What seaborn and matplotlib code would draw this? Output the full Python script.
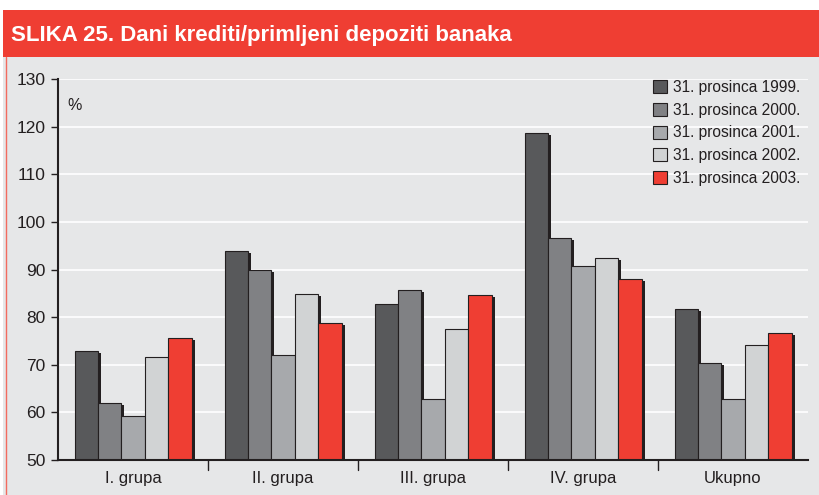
import matplotlib
matplotlib.use("Agg")
import matplotlib.pyplot as plt
import matplotlib.patheffects as pe
from matplotlib.patches import Rectangle, Patch
import seaborn as sns
import pandas as pd

categories = ["I. grupa", "II. grupa", "III. grupa", "IV. grupa", "Ukupno"]
series = ["31. prosinca 1999.", "31. prosinca 2000.", "31. prosinca 2001.",
          "31. prosinca 2002.", "31. prosinca 2003."]
v1999 = [72.8, 93.8, 82.7, 118.7, 81.8]
v2000 = [62.0, 90.0, 85.7, 96.7, 70.3]
v2001 = [59.2, 72.0, 62.8, 90.8, 62.8]
v2002 = [71.6, 84.8, 77.5, 92.5, 74.1]
v2003 = [75.6, 78.8, 84.7, 88.0, 76.6]
yticks = [50, 60, 70, 80, 90, 100, 110, 120, 130]

colors = ["#58595b", "#808184", "#a7a9ac", "#d1d3d4", "#ef3e33"]
bg = "#e6e7e8"
red = "#ef3e33"

rows = []
for s, vals in zip(series, [v1999, v2000, v2001, v2002, v2003]):
    for c, v in zip(categories, vals):
        rows.append({"cat": c, "series": s, "value": v})
df = pd.DataFrame(rows)

sns.set_style("white")
plt.rcParams['font.family'] = ['Liberation Sans', 'DejaVu Sans']

fig = plt.figure(figsize=(8.19, 4.95), dpi=100)
fig.patch.set_facecolor("white")
# gray panel
fig.patches.append(Rectangle((3/819, 0), 1, (495-57)/495, transform=fig.transFigure,
                             facecolor=bg, edgecolor="none", zorder=-2))
# title band
fig.patches.append(Rectangle((3/819, (495-57)/495), 1, 47/495, transform=fig.transFigure,
                             facecolor=red, edgecolor="none", zorder=-1))
# left red border
fig.add_artist(plt.Line2D([6/819, 6/819], [0, (495-57)/495], transform=fig.transFigure,
                          color="#f26b5f", lw=1))
fig.text(11/819, (495-35)/495, "SLIKA 25. Dani krediti/primljeni depoziti banaka",
         color="white", fontsize=16, fontweight="bold", va="center", ha="left",
         family=["Liberation Sans Narrow", "Liberation Sans"])

ax = fig.add_axes([58/819, (495-460)/495, 750/819, 381/495])
ax.set_facecolor(bg)
sns.barplot(data=df, x="cat", y="value", hue="series", order=categories,
            hue_order=series, palette=colors, saturation=1, width=0.78, ax=ax,
            edgecolor="#231f20", linewidth=0.8, legend=False, zorder=3)
for p in ax.patches:
    p.set_path_effects([pe.SimplePatchShadow(offset=(2.2, -1.5), shadow_rgbFace="#231f20", alpha=1.0),
                        pe.Normal()])

ax.set_ylim(50, 130)
ax.set_xlim(-0.5, 4.5)
ax.set_yticks(yticks)
ax.set_yticklabels([str(t) for t in yticks], fontsize=12.5, color="#231f20")
ax.yaxis.grid(True, color="white", lw=1.2, zorder=0)
ax.set_axisbelow(True)
ax.set_xticks(range(5))
ax.set_xticklabels(categories, fontsize=12, color="#231f20")
ax.tick_params(axis="x", length=0, pad=8)
ax.tick_params(axis="y", direction="out", length=5, width=1, color="#231f20", pad=4, left=True)
for t in [0.5, 1.5, 2.5, 3.5]:
    ax.plot([t, t], [0, -0.025], transform=ax.get_xaxis_transform(), color="#231f20",
            lw=1, clip_on=False)
ax.set_xlabel("")
ax.set_ylabel("")
for s in ["top", "right"]:
    ax.spines[s].set_visible(False)
for s in ["left", "bottom"]:
    ax.spines[s].set_color("#231f20")
    ax.spines[s].set_linewidth(1.5)
    ax.spines[s].set_zorder(5)
ax.text(0.012, 0.93, "%", transform=ax.transAxes, fontsize=11.5, color="#231f20",
        ha="left", va="center")

handles = [Patch(facecolor=c, edgecolor="#231f20", lw=0.8, label=s) for c, s in zip(colors, series)]
leg = ax.legend(handles=handles, loc="upper right", bbox_to_anchor=(1.0, 1.018), frameon=False,
                fontsize=11.2, handlelength=0.9, handleheight=0.9, handletextpad=0.4,
                labelspacing=0.5, borderaxespad=0.1)
for t in leg.get_texts():
    t.set_color("#231f20")

fig.savefig("out.png", dpi=100, facecolor=fig.get_facecolor())
